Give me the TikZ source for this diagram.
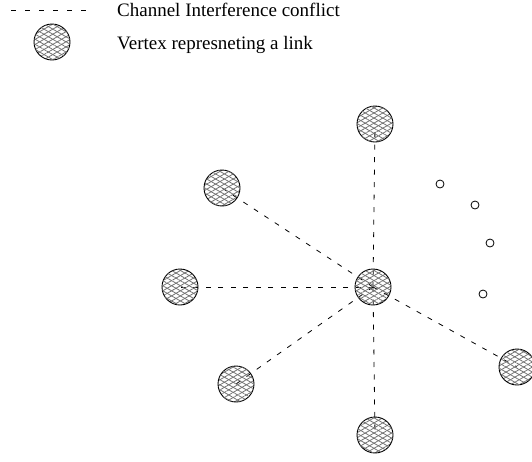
\documentclass[tikz,border=0pt]{standalone}
\usepackage{fontspec}
\setmainfont{Liberation Serif}
\usetikzlibrary{patterns.meta}
\begin{document}
\begin{tikzpicture}[x=1pt,y=-1pt,
  conflict/.style={draw=black,line width=0.8pt,dash pattern=on 5pt off 7.5pt},
  legenddash/.style={draw=black,line width=0.8pt,dash pattern=on 5pt off 9pt},
  vertexnode/.style={circle,minimum size=36pt,inner sep=0pt,draw=black,line width=0.9pt,
    preaction={pattern={Lines[angle=30,distance=4.4pt,line width=0.8pt]},pattern color=gray!90!black},
    postaction={pattern={Lines[angle=-30,distance=4.4pt,line width=0.8pt]},pattern color=gray!90!black}},
  dotnode/.style={circle,minimum size=8pt,inner sep=0pt,draw=black,line width=0.8pt},
  legendtext/.style={anchor=base west,font=\fontsize{19}{21}\selectfont,inner sep=0pt}]
\useasboundingbox (0,0) rectangle (532,461);
% legend
\coordinate (la) at (11,10);
\coordinate (lb) at (86,10);
\draw[legenddash] (la) -- (lb);
\node[legendtext] (lt1) at (117,16) {Channel Interference conflict};
\node[vertexnode] (lv) at (52,42) {};
\node[legendtext] (lt2) at (117,49) {Vertex represneting a link};
% graph
\coordinate (cc) at (373,287);
\coordinate (ct) at (375,124);
\coordinate (cul) at (222,188);
\coordinate (cl) at (180,287);
\coordinate (cll) at (236,384);
\coordinate (cb) at (375,435);
\coordinate (cr) at (517,367);
\draw[conflict] (cc) -- (ct);
\draw[conflict] (cc) -- (cul);
\draw[conflict] (cc) -- (cl);
\draw[conflict] (cc) -- (cll);
\draw[conflict] (cc) -- (cb);
\draw[conflict] (cc) -- (cr);
\node[vertexnode] (c) at (cc) {};
\node[vertexnode] (t) at (ct) {};
\node[vertexnode] (ul) at (cul) {};
\node[vertexnode] (l) at (cl) {};
\node[vertexnode] (ll) at (cll) {};
\node[vertexnode] (b) at (cb) {};
\node[vertexnode] (r) at (cr) {};
\node[dotnode] (d1) at (440,184) {};
\node[dotnode] (d2) at (475,205) {};
\node[dotnode] (d3) at (490,243) {};
\node[dotnode] (d4) at (483,294) {};
\end{tikzpicture}
\end{document}
